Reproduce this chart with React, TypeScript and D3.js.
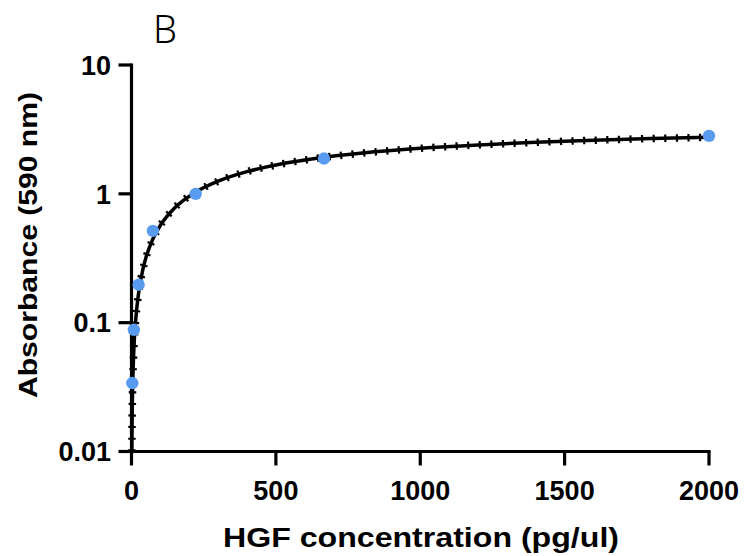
import React from "react";
import * as d3 from "d3";

// Measured points (HGF concentration pg/ul, absorbance 590 nm)
const pointX = [2.74, 8.23, 24.7, 74.1, 222.2, 666.7, 2000];
const pointY = [0.034, 0.088, 0.197, 0.516, 1.0, 1.88, 2.82];

// Fitted curve
const curveX = [1.2, 2, 3, 5, 8, 15, 25, 40, 50, 74, 100, 150, 222, 300, 400, 500, 667, 800, 1000, 1200, 1400, 1600, 1800, 2000];
const curveY = [0.01, 0.0164, 0.024, 0.039, 0.061, 0.108, 0.172, 0.263, 0.32, 0.446, 0.57, 0.78, 1.03, 1.254, 1.486, 1.673, 1.92, 2.073, 2.256, 2.398, 2.512, 2.606, 2.685, 2.75];

const xTicks = [0, 500, 1000, 1500, 2000];
const yTicks = [0.01, 0.1, 1, 10];
const yTickLabels = ["0.01", "0.1", "1", "10"];

const W = 745;
const H = 556;

export default function App() {
  const x = d3.scaleLinear().domain([0, 2000]).range([131.5, 709]);
  const y = d3.scaleLog().domain([0.01, 10]).range([451.5, 65]);

  const pts = curveX.map((v, i) => [x(v), y(curveY[i])] as [number, number]);
  const line = d3.line().curve(d3.curveMonotoneX);
  const d = line(pts) || "";

  const font = "'Liberation Sans', Arial, sans-serif";

  return (
    <svg width={W} height={H} style={{ position: "absolute", left: 0, top: 0, background: "#fff" }}>
      <text x={153} y={43} fontFamily="'Noto Sans', sans-serif" fontSize={38} fontWeight={300} fill="#000">B</text>

      {/* curve */}
      <path d={d} fill="none" stroke="#000" strokeWidth={3.5} />
      <path d={d} fill="none" stroke="#000" strokeWidth={7.5} strokeDasharray="2.2 9.4" />

      {/* axes */}
      <line x1={x(0)} x2={x(0)} y1={y(10)} y2={y(0.01)} stroke="#000" strokeWidth={3.2} strokeLinecap="square" />
      <line x1={x(0)} x2={x(2000)} y1={y(0.01)} y2={y(0.01)} stroke="#000" strokeWidth={3.2} strokeLinecap="square" />
      {yTicks.map((t, i) => (
        <g key={"y" + t}>
          <line x1={x(0) - 13} x2={x(0)} y1={y(t)} y2={y(t)} stroke="#000" strokeWidth={3.2} />
          <text x={111} y={y(t)} dy="0.36em" textAnchor="end" fontFamily={font} fontWeight="bold" fontSize={27} fill="#000">{yTickLabels[i]}</text>
        </g>
      ))}
      {xTicks.map((t) => (
        <g key={"x" + t}>
          <line x1={x(t)} x2={x(t)} y1={y(0.01)} y2={y(0.01) + 14} stroke="#000" strokeWidth={3.2} />
          <text x={x(t)} y={500} textAnchor="middle" fontFamily={font} fontWeight="bold" fontSize={27} fill="#000">{t}</text>
        </g>
      ))}

      {/* points */}
      {pointX.map((v, i) => (
        <circle key={i} cx={x(v)} cy={y(pointY[i])} r={6.2} fill="#589BF0" />
      ))}

      <text x={421} y={547} textAnchor="middle" fontFamily={font} fontWeight="bold" fontSize={27} textLength={396} lengthAdjust="spacingAndGlyphs" fill="#000">HGF concentration (pg/ul)</text>
      <text transform={`translate(37,245) rotate(-90)`} textAnchor="middle" fontFamily={font} fontWeight="bold" fontSize={26} textLength={306} lengthAdjust="spacingAndGlyphs" fill="#000">Absorbance (590 nm)</text>
    </svg>
  );
}
